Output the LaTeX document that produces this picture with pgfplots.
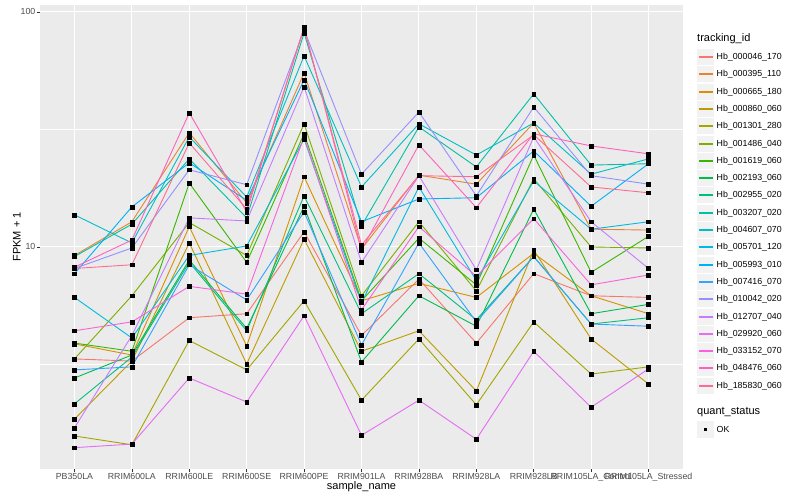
\documentclass[border=0pt]{standalone}
\usepackage{fontspec}
\setmainfont{Liberation Sans}
\usepackage{pgfplots}
\usepackage{pgfplotstable}
\pgfplotsset{compat=1.18}

% ggplot hue palette, 20 levels
\definecolor{c1}{HTML}{F8766D}
\definecolor{c2}{HTML}{EA8331}
\definecolor{c3}{HTML}{D89000}
\definecolor{c4}{HTML}{C09B00}
\definecolor{c5}{HTML}{A3A500}
\definecolor{c6}{HTML}{7CAE00}
\definecolor{c7}{HTML}{39B600}
\definecolor{c8}{HTML}{00BB4E}
\definecolor{c9}{HTML}{00BF7D}
\definecolor{c10}{HTML}{00C1A3}
\definecolor{c11}{HTML}{00BFC4}
\definecolor{c12}{HTML}{00BAE0}
\definecolor{c13}{HTML}{00B0F6}
\definecolor{c14}{HTML}{35A2FF}
\definecolor{c15}{HTML}{9590FF}
\definecolor{c16}{HTML}{C77CFF}
\definecolor{c17}{HTML}{E76BF3}
\definecolor{c18}{HTML}{FA62DB}
\definecolor{c19}{HTML}{FF62BC}
\definecolor{c20}{HTML}{FF6C91}
\definecolor{panel}{HTML}{EBEBEB}
\definecolor{keybg}{HTML}{F2F2F2}
\definecolor{ticktext}{HTML}{4D4D4D}
\definecolor{tickline}{HTML}{333333}

% FPKM + 1, one row per sample, one column per tracking_id
\pgfplotstableread{
x  s1   s2   s3   s4   s5   s6   s7   s8   s9   s10  s11  s12  s13  s14  s15  s16  s17  s18  s19  s20
1  3.34 9.2  3.87 1.85 1.57 3.34 3.9  2.77 2.15 9.1  13.7 6.1  7.7  3.0  8.1  1.70 1.40 4.4  8.2  8.1
2  3.27 12.8 3.47 3.27 1.44 6.2  3.6  3.47 3.4  12.5 10.4 4.1  14.8 3.09 9.9  4.2  1.45 4.8  10.7 8.4
3  5.0  30.6 12.2 10.4 4.0  12.7 18.7 8.8  8.6  23.7 29.4 9.2  22.8 8.4  21.3 13.3 2.77 6.8  37.2 27.7
4  5.2  15.4 3.79 3.18 3.0  9.2  8.6  4.5  4.4  13.3 16.3 10.1 15.8 5.95 18.4 12.9 2.19 6.3  14.1 14.5
5  11.6 55.0 19.9 10.8 5.9  33.4 30.3 14.9 16.5 81.4 65.0 28.8 51.4 14.1 83.8 48.0 5.1  29.4 86.3 85.5
6  4.2  9.8  5.9  3.6  2.23 6.2  5.9  3.24 5.2  12.3 18.0 5.8  12.8 3.83 20.4 8.6  1.58 5.4  9.7  10.2
7  7.3  20.2 7.0  4.4  4.06 12.8 10.9 6.2  7.7  32.4 33.4 18.0 16.0 10.4 37.5 20.1 2.23 12.2 27.2 20.1
8  3.9  18.5 6.1  2.44 2.13 6.5  6.9  4.6  4.9  21.9 24.6 7.2  16.2 4.8  16.5 8.0  1.52 7.5  14.7 19.9
9  7.7  33.7 9.4  9.7  4.8  19.5 24.6 14.5 9.1  44.8 33.7 19.1 25.6 9.1  39.4 29.4 3.6  13.2 30.3 30.0
10 6.2  11.9 6.2  4.06 2.88 10.0 7.8  5.2  4.7  22.3 20.4 11.9 14.9 4.7  20.1 12.8 2.08 6.9  26.9 18.0
11 6.1  11.8 5.2  2.61 3.09 9.9  11.1 5.7  5.0  22.6 23.7 12.8 22.6 4.6  18.5 8.1  3.03 7.6  24.9 17.0
}\fpkm

\begin{document}
\begin{tikzpicture}
\path[use as bounding box, fill=white] (0,0) rectangle (800bp,500bp);

\begin{axis}[
    at={(40bp,31bp)}, anchor=south west,
    scale only axis,
    width=643bp, height=464bp,
    xmin=0.4, xmax=11.6,
    ymode=log,
    ymin=1.136, ymax=107,
    axis background/.style={fill=panel},
    axis line style={draw=none},
    tick pos=left,
    tick align=outside,
    major tick length=3bp,
    minor tick length=0pt,
    tick style={tickline, line width=0.5bp},
    xtick={1,...,11},
    xticklabels={PB350LA,RRIM600LA,RRIM600LE,RRIM600SE,RRIM600PE,RRIM901LA,RRIM928BA,RRIM928LA,RRIM928LB,RRIM105LA\_Control,RRIM105LA\_Stressed},
    ytick={10,100},
    yticklabels={10,100},
    minor ytick={3.1623,31.623},
    grid=both,
    major grid style={white, line width=1.05bp},
    minor grid style={white, line width=0.55bp},
    xticklabel style={font=\fontsize{8.8bp}{10bp}\selectfont, text=ticktext, inner sep=1bp},
    yticklabel style={font=\fontsize{8.8bp}{10bp}\selectfont, text=ticktext, inner sep=1.5bp},
    xlabel={sample\_name},
    ylabel={FPKM + 1},
    xlabel style={font=\fontsize{11bp}{12bp}\selectfont, yshift=4bp},
    ylabel style={font=\fontsize{11bp}{12bp}\selectfont, yshift=-5bp},
    clip=false,
]
% lines first, in factor order
\pgfplotsinvokeforeach{1,...,20}{
  \addplot[color=c#1, line width=0.9bp, no marks] table[x=x, y=s#1] {\fpkm};
}
% quant_status points on top
\pgfplotsinvokeforeach{1,...,20}{
  \addplot[only marks, mark=square*, mark size=1.9bp, black] table[x=x, y=s#1] {\fpkm};
}
\end{axis}

% legends
\begin{scope}[x=1bp, y=1bp]
\node[anchor=west, inner sep=0] at (697,461) {\fontsize{11bp}{12bp}\selectfont tracking\_id};
\foreach \n/\lab in {1/000046\_170, 2/000395\_110, 3/000665\_180, 4/000860\_060, 5/001301\_280,
                     6/001486\_040, 7/001619\_060, 8/002193\_060, 9/002955\_020, 10/003207\_020,
                     11/004607\_070, 12/005701\_120, 13/005993\_010, 14/007416\_070, 15/010042\_020,
                     16/012707\_040, 17/029920\_060, 18/033152\_070, 19/048476\_060, 20/185830\_060} {
  \pgfmathsetmacro\yy{round(443-(\n-1)*17.3)}
  \fill[keybg] (697,\yy-8.3) rectangle (714,\yy+8.3);
  \draw[c\n, line width=1.2bp] (698.5,\yy) -- (712.5,\yy);
  \node[anchor=west, inner sep=0] at (716.5,\yy) {\fontsize{8.8bp}{10bp}\selectfont Hb\_\lab};
}
\node[anchor=west, inner sep=0] at (697,88) {\fontsize{11bp}{12bp}\selectfont quant\_status};
\fill[keybg] (697,62) rectangle (714,79);
\fill[black] (703.6,68.6) rectangle (707.4,72.4);
\node[anchor=west, inner sep=0] at (716.5,70.5) {\fontsize{8.8bp}{10bp}\selectfont OK};
\end{scope}
\end{tikzpicture}
\end{document}
